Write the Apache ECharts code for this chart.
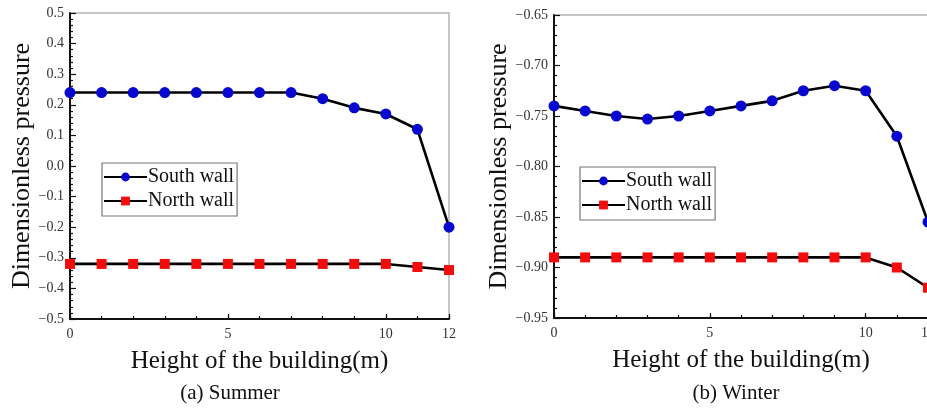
<!DOCTYPE html>
<html>
<head>
<meta charset="utf-8">
<style>
  html, body { margin: 0; padding: 0; background: #fff; }
  #chart { width: 927px; height: 408px; }
</style>
<script src="https://cdn.jsdelivr.net/npm/echarts@6/dist/echarts.min.js"></script>
</head>
<body>
<div id="chart"></div>
<script>
// Wall pressure profiles along the building height, summer and winter
const heights = [0, 1, 2, 3, 4, 5, 6, 7, 8, 9, 10, 11, 12];
const summerSouth = [0.24, 0.24, 0.24, 0.24, 0.24, 0.24, 0.24, 0.24, 0.22, 0.19, 0.17, 0.12, -0.20];
const summerNorth = [-0.32, -0.32, -0.32, -0.32, -0.32, -0.32, -0.32, -0.32, -0.32, -0.32, -0.32, -0.33, -0.34];
const winterSouth = [-0.740, -0.745, -0.750, -0.753, -0.750, -0.745, -0.740, -0.735, -0.725, -0.720, -0.725, -0.770, -0.855];
const winterNorth = [-0.89, -0.89, -0.89, -0.89, -0.89, -0.89, -0.89, -0.89, -0.89, -0.89, -0.89, -0.90, -0.92];
const xLabelValues = [0, 5, 10, 12];
const seriesNames = ['South wall', 'North wall'];
const captions = ['(a) Summer', '(b) Winter'];
const xTitle = 'Height of the building(m)';
const yTitle = 'Dimensionless pressure';

const serif = 'Liberation Serif, Times New Roman, serif';
const pair = (vals) => heights.map((h, i) => [h, vals[i]]);
const fmtY = (d) => (v) => (v < 0 ? '\u2212' : '') + Math.abs(v).toFixed(d);

const grids = [
  { left: 70, top: 13, width: 379, height: 306 },
  { left: 554, top: 15, width: 374, height: 303 }
];

function mainX(gi) {
  return {
    type: 'value', gridIndex: gi, position: 'bottom', min: 0, max: 12, interval: 1,
    name: xTitle, nameLocation: 'middle', nameGap: 30,
    nameTextStyle: { fontFamily: serif, fontSize: 25, color: '#111' },
    axisLine: { show: true, onZero: false, lineStyle: { color: '#111', width: 2 } },
    axisTick: { show: true, inside: true, length: 5, customValues: xLabelValues, lineStyle: { color: '#111', width: 1.2 } },
    axisLabel: { show: true, customValues: xLabelValues, margin: 8, fontFamily: serif, fontSize: 14, color: '#333' },
    splitLine: { show: false }
  };
}
function minorX(gi) {
  return {
    type: 'value', gridIndex: gi, position: 'bottom', min: 0, max: 12, interval: 1,
    axisLine: { show: false, onZero: false },
    axisTick: { show: true, inside: true, length: 3, lineStyle: { color: '#111', width: 1.2 } },
    axisLabel: { show: false },
    splitLine: { show: false }
  };
}
function yAx(gi, min, max, interval, dec, gap) {
  return {
    type: 'value', gridIndex: gi, min: min, max: max, interval: interval,
    name: yTitle, nameLocation: 'middle', nameGap: gap,
    nameTextStyle: { fontFamily: serif, fontSize: 26, color: '#111' },
    axisLine: { show: true, onZero: false, lineStyle: { color: '#111', width: 2 } },
    axisTick: { show: true, inside: true, length: 6, lineStyle: { color: '#111', width: 1.2 } },
    minorTick: { show: true, splitNumber: 5, length: 3, lineStyle: { color: '#111', width: 1.2 } },
    axisLabel: { margin: 6, fontFamily: serif, fontSize: 14, color: '#333', formatter: fmtY(dec) },
    splitLine: { show: false }
  };
}

function lineSeries(name, vals, xi, yi, shape, color, size) {
  return {
    name: name, type: 'line', xAxisIndex: xi, yAxisIndex: yi, data: pair(vals),
    symbol: shape, symbolSize: size, showAllSymbol: true, clip: false,
    lineStyle: { color: '#000', width: 2.6 },
    itemStyle: { color: color, borderWidth: 0 },
    emphasis: { disabled: true }
  };
}

const blue = '#0707cf';
const red = '#f40c0c';

function legendAt(left, top) {
  return {
    data: seriesNames, orient: 'vertical', left: left, top: top,
    itemWidth: 43, itemHeight: 11, itemGap: 4,
    padding: [4, 3, 5, 1],
    borderColor: '#777', borderWidth: 1.2, backgroundColor: '#fff',
    selectedMode: false,
    textStyle: { fontFamily: serif, fontSize: 20, color: '#111', lineHeight: 20, padding: [0, 0, 0, -4] }
  };
}

const option = {
  animation: false,
  backgroundColor: '#fff',
  grid: grids.map(g => Object.assign({
    show: true, borderColor: '#b4b4b4', borderWidth: 1.5, backgroundColor: 'transparent',
    containLabel: false, outerBoundsMode: 'none'
  }, g)),
  title: [
    { text: captions[0], left: 225, top: 378, textAlign: 'center', textStyle: { fontFamily: serif, fontSize: 21, fontWeight: 'normal', color: '#111' } },
    { text: captions[1], left: 731, top: 378, textAlign: 'center', textStyle: { fontFamily: serif, fontSize: 21, fontWeight: 'normal', color: '#111' } }
  ],
  legend: [legendAt(102, 163), legendAt(580, 167)],
  xAxis: [mainX(0), minorX(0), mainX(1), minorX(1)],
  yAxis: [yAx(0, -0.5, 0.5, 0.1, 1, 34), yAx(1, -0.95, -0.65, 0.05, 2, 40)],
  series: [
    lineSeries(seriesNames[0], summerSouth, 0, 0, 'circle', blue, 11),
    lineSeries(seriesNames[1], summerNorth, 0, 0, 'rect', red, 10),
    lineSeries(seriesNames[0], winterSouth, 2, 1, 'circle', blue, 11),
    lineSeries(seriesNames[1], winterNorth, 2, 1, 'rect', red, 10)
  ]
};

const chart = echarts.init(document.getElementById('chart'), null, { renderer: 'canvas' });
chart.setOption(option);
</script>
</body>
</html>
